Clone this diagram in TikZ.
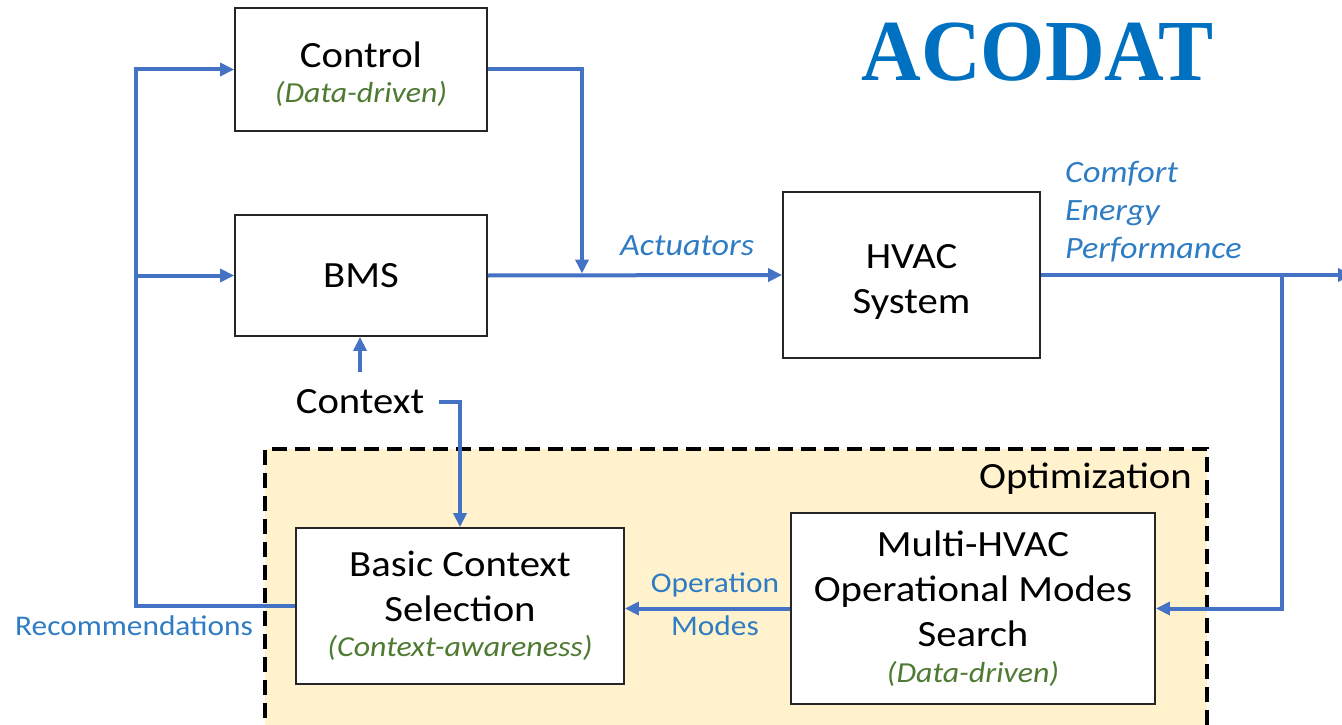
\documentclass[tikz,border=0pt]{standalone}
\usepackage{fontspec}
\usetikzlibrary{arrows.meta,calc}
\newfontfamily\calib{Carlito}[FakeStretch=1.1]
\newfontfamily\titlefont{Liberation Serif}[FakeStretch=0.95]
\definecolor{wire}{HTML}{4472C4}
\definecolor{lblblue}{HTML}{2E7CC4}
\definecolor{titleblue}{HTML}{0070C0}
\definecolor{subgreen}{HTML}{4E7A32}
\definecolor{optfill}{HTML}{FFF2CC}
\definecolor{boxline}{HTML}{262626}
\newcommand\bigtxt{\calib\fontsize{37}{45}\selectfont}
\newcommand\subtxt{\calib\itshape\fontsize{29}{35}\selectfont\color{subgreen}}
\newcommand\lbltxt{\calib\itshape\fontsize{31}{38}\selectfont}
\newcommand\smalltxt{\calib\fontsize{28.5}{43}\selectfont}
\newcommand\lift[1]{\rule{0pt}{#1}}
\begin{document}
\begin{tikzpicture}[x=1pt,y=-1pt,
  block/.style={draw=boxline, line width=1.8pt, fill=white, inner sep=0pt, align=center, font=\bigtxt},
  wirestyle/.style={draw=wire, line width=4pt},
  arr/.style={wirestyle, -{Triangle[length=14pt,width=13pt]}},
  tag/.style={inner sep=0pt, text=lblblue},
  plain/.style={inner sep=0pt, font=\bigtxt},
  optbox/.style={fill=optfill, inner sep=0pt, draw=black, line width=3.5pt, dash pattern=on 15pt off 8pt},
]
\useasboundingbox (0,0) rectangle (1342,725);

% optimisation region (lower edge runs off the page)
\node[optbox, minimum width=942pt, minimum height=300pt] (opt) at (736,599) {};

% blocks
\node[block, minimum width=252pt, minimum height=123pt] (control) at (361,69.5)
  {\lift{34pt}Control\\[-10pt]{\subtxt (Data-driven)}};
\node[block, minimum width=252pt, minimum height=121pt] (bms) at (361,275.5) {BMS};
\node[block, minimum width=257pt, minimum height=166pt] (hvac) at (911.5,275) {\lift{38pt}HVAC\\System};
\node[block, minimum width=328pt, minimum height=156pt] (bcs) at (460,606)
  {Basic Context\\Selection\\[-10pt]{\subtxt (Context-awareness)}};
\node[block, minimum width=364pt, minimum height=191pt] (mhs) at (973,608.5)
  {Multi-HVAC\\Operational Modes\\Search\\[-9pt]{\subtxt (Data-driven)}};

% free texts
\node[plain] (ctx) at (360,402) {Context};
\node[plain, anchor=base east] (optlbl) at (1192,488) {Optimization};
\node[tag, font=\lbltxt, anchor=base west] (act) at (620,255) {Actuators};
\node[tag, font=\lbltxt, align=left, anchor=base west] (kpi) at (1065,258) {Comfort\\Energy\\Performance};
\node[tag, font=\smalltxt, anchor=base west] (rec) at (15,635) {Recommendations};
\node[tag, font=\smalltxt, align=center, anchor=base] (opm) at (715,635) {Operation\\Modes};
\node[inner sep=0pt, text=titleblue, font=\titlefont\bfseries\fontsize{87}{90}\selectfont, anchor=base] (title) at (1037.5,81) {ACODAT};

% helper coordinates
\coordinate (bus) at (136,0);
\coordinate (drop) at (582,0);
\coordinate (tap) at (1282,0);
\coordinate (out) at (1352,275);

% connectors
\draw[arr] (bcs.west) -| (bus |- control.west) -- (control.west);
\draw[arr] (bus |- bms.west) -- (bms.west);
\draw[arr, shorten >=2pt] (control.east) -| (drop |- bms.east);
\draw[arr] (bms.east) -- (hvac.west);
\draw[arr] (hvac.east) -- (out);
\draw[arr] (tap |- hvac.east) |- (mhs.east);
\draw[arr] (mhs.west) -- (bcs.east |- mhs.west);
\draw[arr] ([yshift=18pt]ctx.north) -- (ctx.north |- bms.south);
\draw[arr] ([xshift=15pt]ctx.east) -| (bcs.north);
\end{tikzpicture}
\end{document}
